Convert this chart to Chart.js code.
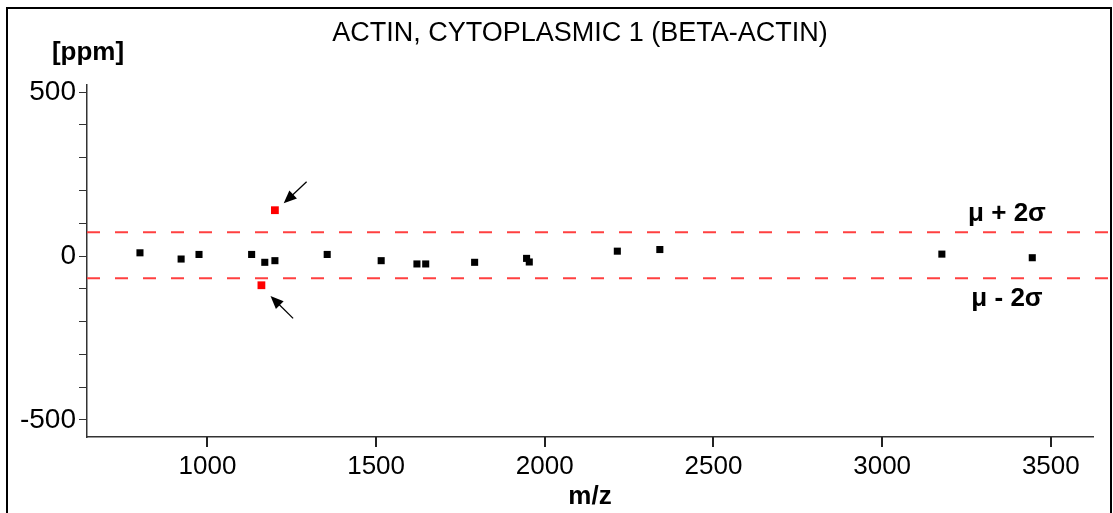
<!DOCTYPE html>
<html>
<head>
<meta charset="utf-8">
<script src="https://cdn.jsdelivr.net/npm/chart.js@4"></script>
<style>
  html, body { margin: 0; padding: 0; background: #fff; }
  #wrap { position: absolute; left: 0; top: 0; width: 1113px; height: 513px; }
</style>
</head>
<body>
<div id="wrap"><canvas id="chart" width="1113" height="513"></canvas></div>
<script>
// peptide mass errors (m/z vs ppm)
const mzValues  = [800, 922, 975, 1131, 1170, 1200, 1355, 1515, 1621, 1647, 1792, 1946, 1954, 2215, 2341, 3177, 3445];
const ppmValues = [10, -9, 5, 5, -19, -14, 5, -14, -24, -24, -19, -7, -18, 15, 20, 6, -5];

// outliers beyond mu +/- 2 sigma
const outlierMz  = [1200, 1160];
const outlierPpm = [140, -89];

// mu + 2 sigma / mu - 2 sigma
const limitValues = [73, -68];
const limitLabels = ['μ + 2σ', 'μ - 2σ'];

const xRange = [643, 3625];
const yRange = [-552, 522];
const xTickValues = [1000, 1500, 2000, 2500, 3000, 3500];
const yTickValues = [-500, -400, -300, -200, -100, 0, 100, 200, 300, 400, 500];
const yLabelValues = [-500, 0, 500];

// arrows pointing at outliers: [tipX, tipY, tailX, tailY] in data units
const arrows = [
    [1226, 161, 1294, 227],
    [1187, -122, 1254, -190]
];

const FONT = "'Liberation Sans', Arial, Helvetica, sans-serif";

const decorPlugin = {
    id: 'decor',
    afterDraw(chart) {
        const { ctx, scales: { x, y }, chartArea } = chart;
        ctx.save();

        // frame
        ctx.fillStyle = '#000';
        ctx.fillRect(6, 7, 2, 513);
        ctx.fillRect(6, 7, 1106, 2);
        ctx.fillRect(1110, 7, 2, 513);

        // x tick marks below the axis
        ctx.fillStyle = '#222';
        xTickValues.forEach(v => {
            const px = Math.round(x.getPixelForValue(v));
            ctx.fillRect(px - 1, Math.round(chartArea.bottom), 2, 10);
        });

        // title + axis titles
        ctx.fillStyle = '#000';
        ctx.textAlign = 'center';
        ctx.textBaseline = 'middle';
        ctx.font = `27px ${FONT}`;
        ctx.fillText('ACTIN, CYTOPLASMIC 1 (BETA-ACTIN)', 580, 34);
        ctx.font = `bold 26px ${FONT}`;
        ctx.fillText('[ppm]', 88, 53);
        ctx.fillText('m/z', (chartArea.left + chartArea.right) / 2, 497);

        // limit labels
        ctx.font = `bold 26px ${FONT}`;
        const lx = 1007;
        ctx.fillText(limitLabels[0], lx, y.getPixelForValue(limitValues[0]) - 18);
        ctx.fillText(limitLabels[1], lx, y.getPixelForValue(limitValues[1]) + 20);

        // arrows
        ctx.strokeStyle = '#000';
        ctx.fillStyle = '#000';
        ctx.lineWidth = 1.3;
        arrows.forEach(([tx, ty, sx, sy]) => {
            const px = x.getPixelForValue(tx), py = y.getPixelForValue(ty);
            const qx = x.getPixelForValue(sx), qy = y.getPixelForValue(sy);
            const ang = Math.atan2(py - qy, px - qx);
            ctx.beginPath();
            ctx.moveTo(qx, qy);
            ctx.lineTo(px - 6 * Math.cos(ang), py - 6 * Math.sin(ang));
            ctx.stroke();
            const len = 13, half = 5.5;
            ctx.beginPath();
            ctx.moveTo(px, py);
            ctx.lineTo(px - len * Math.cos(ang) + half * Math.sin(ang), py - len * Math.sin(ang) - half * Math.cos(ang));
            ctx.lineTo(px - len * Math.cos(ang) - half * Math.sin(ang), py - len * Math.sin(ang) + half * Math.cos(ang));
            ctx.closePath();
            ctx.fill();
        });
        ctx.restore();
    }
};

const limitLine = (v) => ({
    type: 'line',
    data: [{ x: xRange[0], y: v }, { x: 3680, y: v }],
    borderColor: '#ff4040',
    borderWidth: 2,
    borderDash: [13, 15],
    pointRadius: 0,
    fill: false,
    clip: false,
    order: 3
});

new Chart(document.getElementById('chart'), {
    type: 'scatter',
    data: {
        datasets: [
            limitLine(limitValues[0]),
            limitLine(limitValues[1]),
            {
                data: mzValues.map((m, i) => ({ x: m, y: ppmValues[i] })),
                backgroundColor: '#000',
                borderWidth: 0,
                pointStyle: 'rect',
                pointRadius: 5,
                order: 1
            },
            {
                data: outlierMz.map((m, i) => ({ x: m, y: outlierPpm[i] })),
                backgroundColor: '#ff0000',
                borderWidth: 0,
                pointStyle: 'rect',
                pointRadius: 5.5,
                order: 1
            }
        ]
    },
    options: {
        responsive: false,
        animation: false,
        devicePixelRatio: 1,
        layout: { padding: { top: 85, right: 20, left: 0, bottom: 0 } },
        plugins: { legend: { display: false }, tooltip: { enabled: false } },
        scales: {
            x: {
                type: 'linear',
                min: xRange[0],
                max: xRange[1],
                afterFit(scale) { scale.height = 76; },
                afterBuildTicks(scale) { scale.ticks = xTickValues.map(v => ({ value: v })); },
                border: { display: true, color: '#333', width: 1.5 },
                grid: { drawOnChartArea: false, drawTicks: true, tickLength: 8, color: '#333' },
                ticks: {
                    autoSkip: false,
                    maxRotation: 0,
                    color: '#000',
                    padding: 6,
                    font: { family: FONT, size: 26 },
                    callback: (v) => String(v)
                }
            },
            y: {
                min: yRange[0],
                max: yRange[1],
                afterFit(scale) { scale.width = 87; },
                afterBuildTicks(scale) { scale.ticks = yTickValues.map(v => ({ value: v })); },
                border: { display: true, color: '#333', width: 1.5 },
                grid: { drawOnChartArea: false, drawTicks: true, tickLength: 8, color: '#333' },
                ticks: {
                    autoSkip: false,
                    color: '#000',
                    padding: 3,
                    font: { family: FONT, size: 28 },
                    callback: (v) => (yLabelValues.includes(v) ? String(v) : '')
                }
            }
        }
    },
    plugins: [decorPlugin]
});
</script>
</body>
</html>
